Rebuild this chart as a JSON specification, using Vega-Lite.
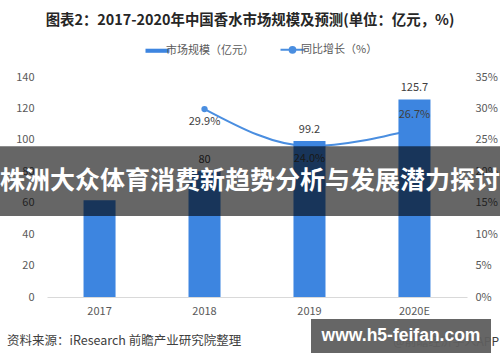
{
  "$schema": "https://vega.github.io/schema/vega-lite/v6.json",
  "width": 420,
  "height": 220,
  "autosize": {"type": "none"},
  "padding": {"left": 47, "top": 77, "right": 33, "bottom": 65},
  "background": "white",
  "config": {"font": "Noto Sans CJK SC", "view": {"stroke": null}},
  "title": {
    "text": "图表2：2017-2020年中国香水市场规模及预测(单位：亿元，%)",
    "fontSize": 14.4,
    "fontWeight": "bold",
    "color": "#262626",
    "anchor": "middle",
    "dx": -7,
    "offset": 16
  },
  "data": {
    "values": [
      {"year": "2017", "size": 61.6, "growth": null},
      {"year": "2018", "size": 80, "growth": 0.299},
      {"year": "2019", "size": 99.2, "growth": 0.24},
      {"year": "2020E", "size": 125.7, "growth": 0.267}
    ]
  },
  "encoding": {
    "x": {
      "field": "year",
      "type": "ordinal",
      "scale": {"paddingInner": 0.695, "paddingOuter": 0.348},
      "axis": {
        "title": null,
        "labelAngle": 0,
        "domainColor": "#d9d9d9",
        "domainWidth": 1,
        "ticks": false,
        "labelPadding": 8,
        "labelColor": "#595959",
        "labelFontSize": 11,
        "grid": false
      }
    }
  },
  "layer": [
    {
      "transform": [{"filter": "datum.growth != null"}],
      "mark": {"type": "line", "interpolate": "monotone", "strokeWidth": 2, "point": {"filled": true, "size": 40}},
      "encoding": {
        "y": {
          "field": "growth",
          "type": "quantitative",
          "scale": {"domain": [0, 0.35], "nice": false},
          "axis": {
            "orient": "right",
            "title": null,
            "values": [0, 0.05, 0.1, 0.15, 0.2, 0.25, 0.3, 0.35],
            "format": ".0%",
            "domain": false,
            "ticks": false,
            "grid": false,
            "labelOverlap": false,
            "labelPadding": 8,
            "labelColor": "#595959",
            "labelFontSize": 11
          }
        },
        "color": {
          "datum": "同比增长（%）",
          "scale": {"domain": ["市场规模（亿元）", "同比增长（%）"], "range": ["#3d85e0", "#4a8ee0"]},
          "legend": {
            "orient": "none",
            "legendX": 105,
            "legendY": -33,
            "direction": "horizontal",
            "title": null,
            "padding": 0,
            "labelFontSize": 11,
            "labelColor": "#595959",
            "symbolSize": 576,
            "columnPadding": 22,
            "labelOffset": 3,
            "encode": {
              "symbols": {
                "update": {
                  "shape": {"signal": "datum.value === '市场规模（亿元）' ? 'M-1,-0.17H1V0.17H-1Z' : 'M-1,0H1M-0.24,0A0.24,0.24 0 1,0 0.24,0A0.24,0.24 0 1,0 -0.24,0'"},
                  "fill": {"signal": "datum.value === '市场规模（亿元）' ? '#3d85e0' : '#4a8ee0'"},
                  "stroke": {"signal": "datum.value === '市场规模（亿元）' ? '#3d85e0' : '#4a8ee0'"},
                  "strokeWidth": {"signal": "datum.value === '市场规模（亿元）' ? 0 : 2"},
                  "opacity": {"value": 1}
                }
              }
            }
          }
        }
      }
    },
    {
      "encoding": {
        "y": {
          "field": "size",
          "type": "quantitative",
          "scale": {"domain": [0, 140], "nice": false},
          "axis": {
            "orient": "left",
            "title": null,
            "values": [0, 20, 40, 60, 80, 100, 120, 140],
            "domain": false,
            "ticks": false,
            "grid": false,
            "labelOverlap": false,
            "labelPadding": 13,
            "labelColor": "#595959",
            "labelFontSize": 11
          }
        }
      },
      "layer": [
        {
          "mark": {"type": "bar"},
          "encoding": {
            "color": {"datum": "市场规模（亿元）"}
          }
        },
        {
          "transform": [{"filter": "datum.year !== '2017'"}],
          "mark": {"type": "text", "baseline": "middle", "dy": -11, "fontSize": 11, "color": "#404040"},
          "encoding": {
            "text": {"field": "size", "type": "quantitative", "format": ".1~f"}
          }
        }
      ]
    },
    {
      "transform": [{"filter": "datum.growth != null"}],
      "encoding": {
        "y": {"field": "growth", "type": "quantitative", "scale": {"domain": [0, 0.35], "nice": false}, "axis": null},
        "text": {"field": "growth", "type": "quantitative", "format": ".1%"}
      },
      "layer": [
        {
          "transform": [{"filter": "datum.year !== '2020E'"}],
          "mark": {"type": "text", "baseline": "middle", "dy": 13, "fontSize": 11, "color": "#404040"}
        },
        {
          "transform": [{"filter": "datum.year === '2020E'"}],
          "mark": {"type": "text", "baseline": "middle", "dy": -14, "fontSize": 11, "color": "#404040"}
        }
      ]
    },
    {
      "data": {"values": [{"source": "资料来源：iResearch 前瞻产业研究院整理", "banner": "株洲大众体育消费新趋势分析与发展潜力探讨", "site": "www.h5-feifan.com", "app": "@前瞻经济学人APP"}]},
      "layer": [
        {
          "mark": {"type": "text", "align": "left", "baseline": "middle", "fontSize": 12.5, "color": "#404040"},
          "encoding": {
            "x": {"value": -40},
            "y": {"datum": -28, "type": "quantitative", "scale": {"domain": [0, 140], "nice": false}, "axis": null},
            "text": {"field": "source"}
          }
        },
        {
          "mark": {"type": "text", "align": "right", "baseline": "middle", "fontSize": 12, "color": "#404040"},
          "encoding": {
            "x": {"value": 452},
            "y": {"datum": -28.6, "type": "quantitative"},
            "text": {"field": "app"}
          }
        },
        {
          "mark": {"type": "rect", "color": "#000000", "opacity": 0.6},
          "encoding": {
            "x": {"value": -47},
            "x2": {"value": 453},
            "y": {"datum": 96, "type": "quantitative"},
            "y2": {"datum": 51.5}
          }
        },
        {
          "mark": {"type": "text", "align": "center", "baseline": "middle", "fontSize": 25, "fontWeight": "bold", "color": "white"},
          "encoding": {
            "x": {"value": 203},
            "y": {"datum": 73.8, "type": "quantitative"},
            "text": {"field": "banner"}
          }
        },
        {
          "mark": {"type": "rect", "color": "#5e5e5e", "opacity": 0.95},
          "encoding": {
            "x": {"value": 264},
            "x2": {"value": 444},
            "y": {"datum": -14, "type": "quantitative"},
            "y2": {"datum": -35.6}
          }
        },
        {
          "mark": {"type": "text", "align": "center", "baseline": "middle", "fontSize": 17.5, "fontWeight": "bold", "font": "Liberation Sans", "color": "white"},
          "encoding": {
            "x": {"value": 354},
            "y": {"datum": -24.8, "type": "quantitative"},
            "text": {"field": "site"}
          }
        }
      ]
    }
  ],
  "resolve": {"scale": {"y": "independent"}}
}
